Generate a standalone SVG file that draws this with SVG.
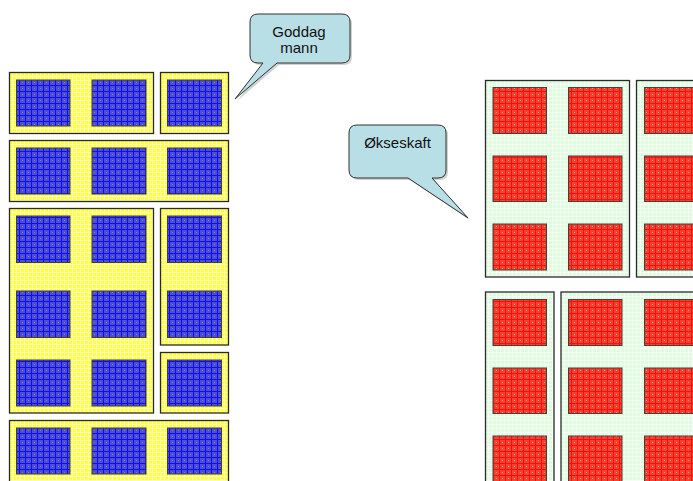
<svg xmlns="http://www.w3.org/2000/svg" width="693" height="481" viewBox="0 0 693 481">
<defs>
<pattern id="pYel" patternUnits="userSpaceOnUse" width="4" height="4">
<rect width="4" height="4" fill="#ffff48"/>
<rect width="4" height="1" fill="#ffffb4"/>
<rect width="1" height="4" fill="#ffffb4"/>
</pattern>
<pattern id="pBlue" patternUnits="userSpaceOnUse" width="6" height="6">
<rect width="6" height="6" fill="#4c4cd4"/>
<rect x="1" width="1" height="6" fill="#0c0cff"/>
<rect y="1" width="6" height="1" fill="#0c0cff"/>
<rect x="4" y="4" width="1" height="1" fill="#8c8c50"/>
</pattern>
<pattern id="pGreen" patternUnits="userSpaceOnUse" width="4" height="4">
<rect width="4" height="4" fill="#defbde"/>
<rect width="4" height="1" fill="#f2fff2"/>
<rect width="1" height="4" fill="#f2fff2"/>
</pattern>
<pattern id="pRed" patternUnits="userSpaceOnUse" width="6" height="6">
<rect width="6" height="6" fill="#f8402e"/>
<rect x="1" width="1" height="6" fill="#ff0c0c"/>
<rect y="1" width="6" height="1" fill="#ff0c0c"/>
<rect x="4" y="4" width="1" height="1" fill="#d0a080"/>
</pattern>
</defs>
<style>
.yb{fill:url(#pYel);stroke:#2a2a20;stroke-width:1.3}
.bi{fill:url(#pBlue);stroke:#404030;stroke-width:1}
.gb{fill:url(#pGreen);stroke:#2a2a2a;stroke-width:1.3}
.ri{fill:url(#pRed);stroke:#404040;stroke-width:1}
.co{fill:#b9dfe6;stroke:#303030;stroke-width:1}
.sh{fill:#999;opacity:.45}
.t{font-family:"Liberation Sans",Arial,sans-serif;font-size:15px;fill:#111;text-anchor:middle}
</style>

<g id="left-r1a">
<rect class="yb" x="9.5" y="72.5" width="144" height="61"/>
<rect class="bi" x="16.5" y="80" width="53.5" height="46"/>
<rect class="bi" x="92" y="80" width="54" height="46"/>
</g>
<g id="left-r1b">
<rect class="yb" x="160.5" y="72.5" width="68" height="61"/>
<rect class="bi" x="167.5" y="80" width="54" height="46"/>
</g>
<g id="left-r2">
<rect class="yb" x="9.5" y="140.5" width="219" height="61"/>
<rect class="bi" x="16.5" y="148" width="53.5" height="46"/>
<rect class="bi" x="92" y="148" width="54" height="46"/>
<rect class="bi" x="167.5" y="148" width="54" height="46"/>
</g>
<g id="left-r3a">
<rect class="yb" x="9.5" y="208.5" width="144" height="204.5"/>
<rect class="bi" x="16.5" y="216" width="53.5" height="46.5"/>
<rect class="bi" x="92" y="216" width="54" height="46.5"/>
<rect class="bi" x="16.5" y="291" width="53.5" height="46.5"/>
<rect class="bi" x="92" y="291" width="54" height="46.5"/>
<rect class="bi" x="16.5" y="360" width="53.5" height="46"/>
<rect class="bi" x="92" y="360" width="54" height="46"/>
</g>
<g id="left-r3b">
<rect class="yb" x="160.5" y="208.5" width="68" height="136.5"/>
<rect class="bi" x="167.5" y="216" width="54" height="46.5"/>
<rect class="bi" x="167.5" y="291" width="54" height="46.5"/>
</g>
<g id="left-r3c">
<rect class="yb" x="160.5" y="352.5" width="68" height="60.5"/>
<rect class="bi" x="167.5" y="360" width="54" height="46"/>
</g>
<g id="left-r4">
<rect class="yb" x="9.5" y="420.5" width="219" height="64"/>
<rect class="bi" x="16.5" y="428" width="53.5" height="46"/>
<rect class="bi" x="92" y="428" width="54" height="46"/>
<rect class="bi" x="167.5" y="428" width="54" height="46"/>
</g>

<g id="right-top-a">
<rect class="gb" x="485.5" y="80.5" width="144" height="196.5"/>
<rect class="ri" x="493" y="87.5" width="53.5" height="46"/>
<rect class="ri" x="568.5" y="87.5" width="53.5" height="46"/>
<rect class="ri" x="493" y="156" width="53.5" height="45.5"/>
<rect class="ri" x="568.5" y="156" width="53.5" height="45.5"/>
<rect class="ri" x="493" y="224" width="53.5" height="46"/>
<rect class="ri" x="568.5" y="224" width="53.5" height="46"/>
</g>
<g id="right-top-b">
<rect class="gb" x="636.5" y="80.5" width="70" height="196.5"/>
<rect class="ri" x="644.5" y="87.5" width="53.5" height="46"/>
<rect class="ri" x="644.5" y="156" width="53.5" height="45.5"/>
<rect class="ri" x="644.5" y="224" width="53.5" height="46"/>
</g>
<g id="right-bot-a">
<rect class="gb" x="485.5" y="292" width="68.5" height="195"/>
<rect class="ri" x="493" y="299.5" width="53.5" height="46"/>
<rect class="ri" x="493" y="368" width="53.5" height="45.5"/>
<rect class="ri" x="493" y="436" width="53.5" height="50"/>
</g>
<g id="right-bot-b">
<rect class="gb" x="561" y="292" width="145" height="195"/>
<rect class="ri" x="568.5" y="299.5" width="53.5" height="46"/>
<rect class="ri" x="644.5" y="299.5" width="53.5" height="46"/>
<rect class="ri" x="568.5" y="368" width="53.5" height="45.5"/>
<rect class="ri" x="644.5" y="368" width="53.5" height="45.5"/>
<rect class="ri" x="568.5" y="436" width="53.5" height="50"/>
<rect class="ri" x="644.5" y="436" width="53.5" height="50"/>
</g>

<g id="callout-goddag">
<path class="sh" d="M260,16 H344 Q352,16 352,24 V57 Q352,65 344,65 H279 L237,101 L265,65 H260 Q252,65 252,57 V24 Q252,16 260,16 Z"/>
<path class="co" d="M258,14 H342 Q350,14 350,22 V55 Q350,63 342,63 H277 L235,99 L263,63 H258 Q250,63 250,55 V22 Q250,14 258,14 Z"/>
<text class="t" x="299" y="37">Goddag</text>
<text class="t" x="299" y="53">mann</text>
</g>
<g id="callout-okseskaft">
<path class="sh" d="M359,127 H440 Q448,127 448,135 V172 Q448,180 440,180 H434 L470,220 L410,180 H359 Q351,180 351,172 V135 Q351,127 359,127 Z"/>
<path class="co" d="M357,125 H438 Q446,125 446,133 V170 Q446,178 438,178 H432 L468,218 L408,178 H357 Q349,178 349,170 V133 Q349,125 357,125 Z"/>
<text class="t" x="397.5" y="148">Økseskaft</text>
</g>
</svg>
